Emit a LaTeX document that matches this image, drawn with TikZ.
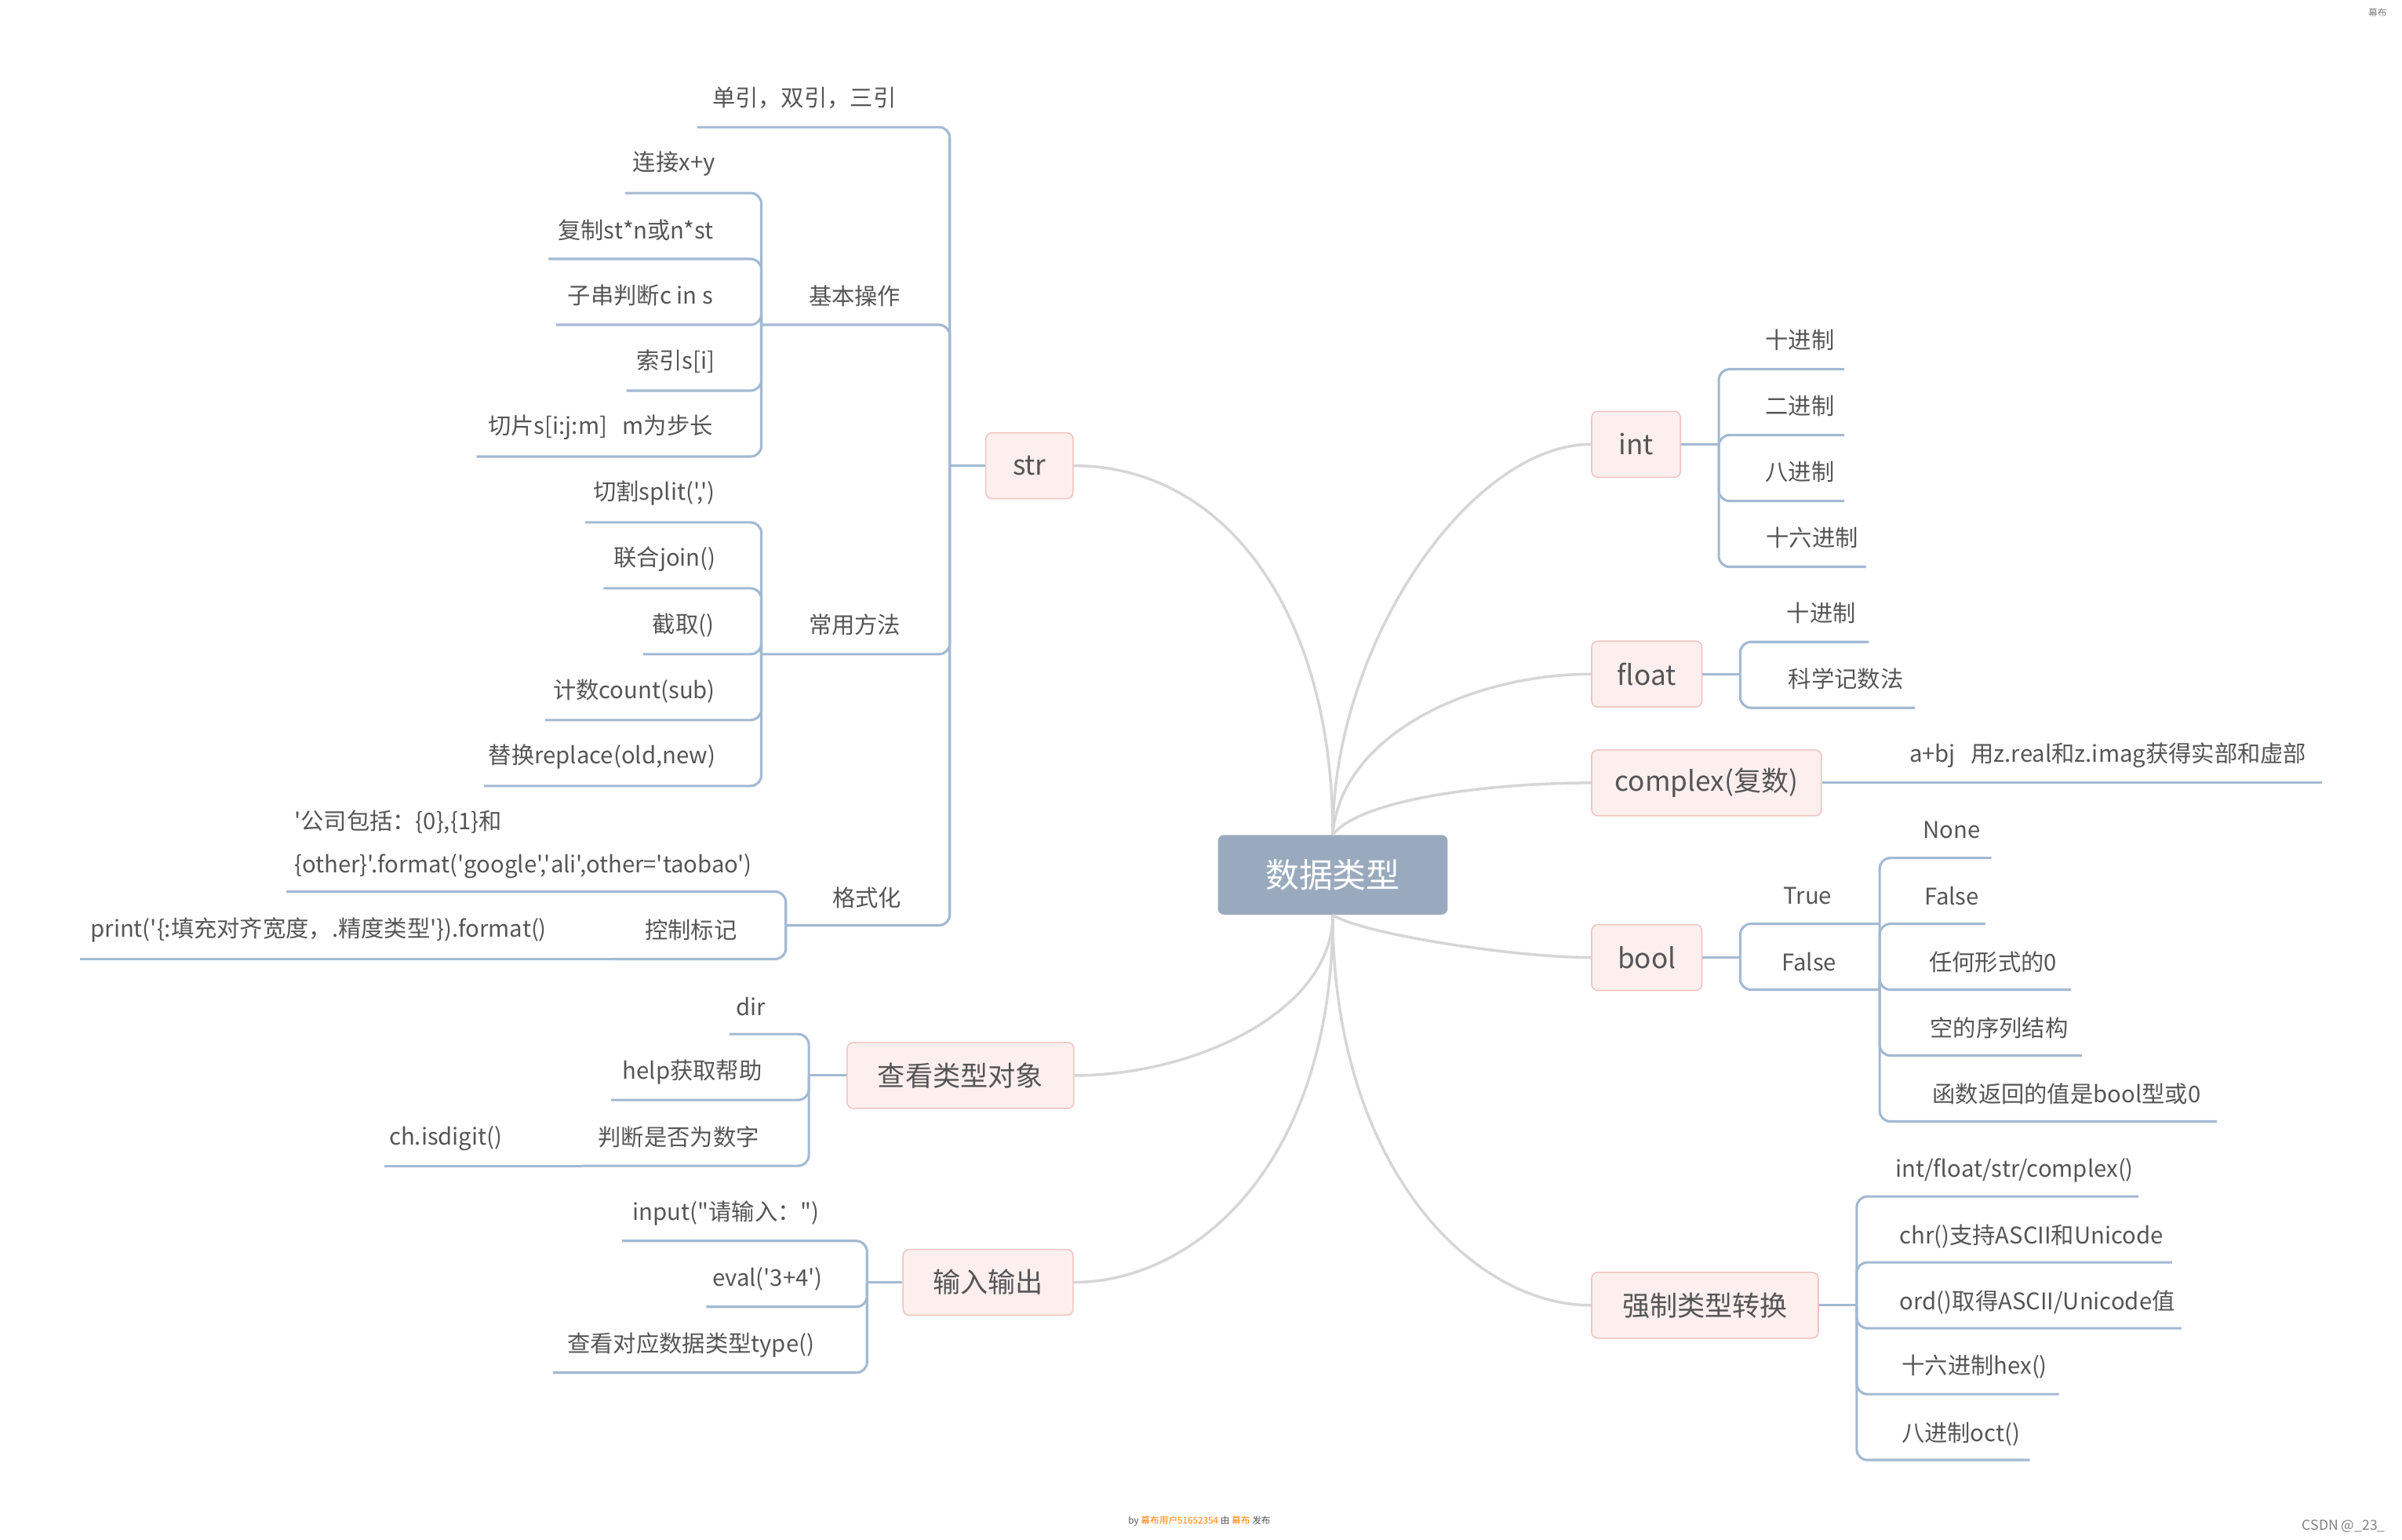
\documentclass[tikz,border=0pt]{standalone}
\usepackage{fontspec}
\setmainfont{Noto Sans CJK SC}[Ligatures=TeXOff]
\newcommand\sq{\symbol{39}}
\newcommand\dq{\symbol{34}}
\definecolor{txt}{HTML}{555555}
\definecolor{br}{HTML}{A3B9D3}
\definecolor{cu}{HTML}{D6D6D6}
\definecolor{pk}{HTML}{FCEFEE}
\definecolor{pkb}{HTML}{F0C4C4}
\definecolor{ctr}{HTML}{9AAABE}
\newcommand\mleaf[7]{%
  \node[lf] at (#1,#2) {#7};
  \draw[brl] (#3,#4) -| (#5,#6);}
\begin{document}
\begin{tikzpicture}[x=1pt,y=-1pt,
  lf/.style={font=\fontsize{15}{18}\selectfont,text=txt,inner sep=0pt},
  brl/.style={draw=br,line width=1.6pt,rounded corners=7pt},
  mn/.style={draw=pkb,fill=pk,rounded corners=4pt,line width=0.8pt,text=txt,font=\fontsize{18}{21}\selectfont,minimum height=43pt,inner sep=0pt},
  cur/.style={draw=cu,line width=1.8pt}]
\useasboundingbox (0,0) rectangle (1568,1005);
\node[fill=ctr,rounded corners=4pt,minimum width=150pt,minimum height=52pt,text=white,font=\fontsize{22}{26}\selectfont] (c) at (870,571) {数据类型};
% main nodes
\node[mn,minimum width=57pt] (str) at (672,304) {str};
\node[mn,minimum width=58pt] (int) at (1068,290) {int};
\node[mn,minimum width=72pt] (float) at (1075,440) {float};
\node[mn,minimum width=150pt] (cx) at (1114,511) {complex(复数)};
\node[mn,minimum width=72pt] (bool) at (1075,625) {bool};
\node[mn,minimum width=148pt] (qz) at (1113,852) {强制类型转换};
\node[mn,minimum width=148pt] (ck) at (627,702) {查看类型对象};
\node[mn,minimum width=111pt] (io) at (645,837) {输入输出};
% curves
\draw[cur] (c.north) .. controls (870,400) and (800,304) .. (str.east);
\draw[cur] (c.north) .. controls (870,420) and (960,290) .. (int.west);
\draw[cur] (c.north) .. controls (875,480) and (960,440) .. (float.west);
\draw[cur] (c.north) .. controls (890,520) and (980,511) .. (cx.west);
\draw[cur] (c.south) .. controls (890,610) and (990,625) .. (bool.west);
\draw[cur] (c.south) .. controls (870,760) and (960,852) .. (qz.west);
\draw[cur] (c.south) .. controls (870,660) and (780,702) .. (ck.east);
\draw[cur] (c.south) .. controls (870,760) and (780,837) .. (io.east);
% str
\draw[brl] (str.west) -- (620,304);
\mleaf{525}{64}{455}{83}{620}{304}{单引，双引，三引}
\mleaf{558}{193}{497}{212}{620}{304}{基本操作}
\mleaf{558}{408}{497}{427}{620}{304}{常用方法}
\mleaf{566}{586}{513}{604}{620}{304}{格式化}
\mleaf{440}{107}{408}{126}{497}{212}{连接x+y}
\mleaf{415}{150}{358}{169}{497}{212}{复制st*n或n*st}
\mleaf{418}{193}{363}{212}{497}{212}{子串判断c in s}
\mleaf{441}{236}{409}{255}{497}{212}{索引s[i]}
\mleaf{392}{279}{311}{298}{497}{212}{切片s[i:j:m]\ \ \ m为步长}
\mleaf{427}{322}{382}{341}{497}{427}{切割split(\sq,\sq)}
\mleaf{434}{365}{394}{384}{497}{427}{联合join()}
\mleaf{446}{408}{420}{427}{497}{427}{截取()}
\mleaf{414}{451}{356}{470}{497}{427}{计数count(sub)}
\mleaf{393}{494}{316}{513}{497}{427}{替换replace(old,new)}
\node[lf,align=left,anchor=west] at (192,551) {\sq 公司包括：\{0\},\{1\}和\\[10pt]\{other\}\sq.format(\sq google\sq,\sq ali\sq,other=\sq taobao\sq)};
\draw[brl] (187,582) -| (513,604);
\mleaf{451}{607}{400}{626}{513}{604}{控制标记}
\node[lf] at (208,607) {print(\sq\{:填充对齐宽度，.精度类型\sq\}).format()};
\draw[brl] (52,626) -- (400,626);
% ck
\draw[brl] (ck.west) -- (528,702);
\mleaf{490}{657}{476}{675}{528}{702}{dir}
\mleaf{452}{700}{399}{718}{528}{702}{help获取帮助}
\mleaf{443}{742}{380}{761}{528}{702}{判断是否为数字}
\node[lf] at (291,743) {ch.isdigit()};
\draw[brl] (251,761) -- (380,761);
% io
\draw[brl] (io.west) -- (566,837);
\mleaf{474}{792}{406}{810}{566}{837}{input(\dq 请输入：\dq)}
\mleaf{501}{835}{461}{853}{566}{837}{eval(\sq 3+4\sq)}
\mleaf{451}{878}{361}{896}{566}{837}{查看对应数据类型type()}
% int
\draw[brl] (int.east) -- (1122,290);
\mleaf{1175}{222}{1204}{241}{1122}{290}{十进制}
\mleaf{1175}{265}{1204}{284}{1122}{290}{二进制}
\mleaf{1175}{308}{1204}{327}{1122}{290}{八进制}
\mleaf{1183}{351}{1218}{370}{1122}{290}{十六进制}
% float
\draw[brl] (float.east) -- (1136,440);
\mleaf{1189}{400}{1220}{419}{1136}{440}{十进制}
\mleaf{1205}{443}{1250}{462}{1136}{440}{科学记数法}
% complex
\draw[brl] (cx.east) -- (1516,511);
\node[lf] at (1376,493) {a+bj\ \ \ 用z.real和z.imag获得实部和虚部};
% bool
\draw[brl] (bool.east) -- (1136,625);
\mleaf{1180}{585}{1227}{603}{1136}{625}{True}
\mleaf{1181}{628}{1227}{646}{1136}{625}{False}
\mleaf{1274}{542}{1300}{560}{1227}{646}{None}
\mleaf{1274}{585}{1296}{603}{1227}{646}{False}
\mleaf{1301}{628}{1352}{646}{1227}{646}{任何形式的0}
\mleaf{1305}{671}{1359}{689}{1227}{646}{空的序列结构}
\mleaf{1349}{714}{1447}{732}{1227}{646}{函数返回的值是bool型或0}
% qz
\draw[brl] (qz.east) -- (1212,852);
\mleaf{1315}{764}{1396}{781}{1212}{852}{int/float/str/complex()}
\mleaf{1326}{807}{1418}{824}{1212}{852}{chr()支持ASCII和Unicode}
\mleaf{1330}{850}{1424}{867}{1212}{852}{ord()取得ASCII/Unicode值}
\mleaf{1289}{892}{1344}{910}{1212}{852}{十六进制hex()}
\mleaf{1280}{936}{1325}{953}{1212}{852}{八进制oct()}
% footer
\node[font=\fontsize{6}{7}\selectfont,text=txt] at (783,993) {by \textcolor{orange}{幕布用户51652354} 由 \textcolor{orange}{幕布} 发布};
\node[font=\fontsize{9}{10}\selectfont,text=gray] at (1530,996) {CSDN @\_23\_};
\node[font=\fontsize{6}{7}\selectfont,text=gray] at (1552,8) {幕布};
\end{tikzpicture}
\end{document}
